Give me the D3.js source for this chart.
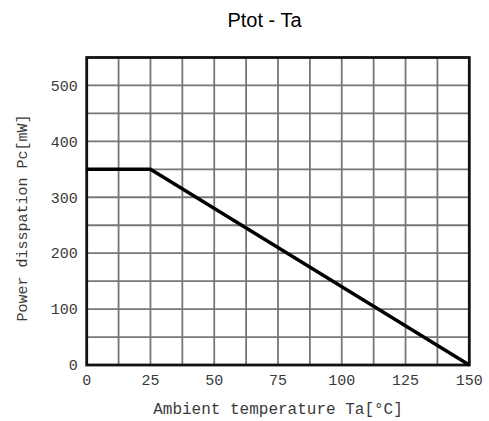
<!DOCTYPE html>
<html>
<head>
<meta charset="utf-8">
<script src="https://cdn.jsdelivr.net/npm/d3@7"></script>
<style>
  body { margin: 0; background: #fff; }
  #chart { width: 489px; height: 421px; }
  .tick-label { font-family: "Liberation Mono", monospace; font-size: 15px; fill: #3a3a3a; }
  .axis-title { font-family: "Liberation Mono", monospace; fill: #3a3a3a; }
  .chart-title { font-family: "Liberation Sans", Arial, sans-serif; font-size: 20px; fill: #000; }
</style>
</head>
<body>
<div id="chart"></div>
<script>
// derating curve Ptot vs ambient temperature
const temps = [0, 25, 150];
const power = [350, 350, 0];

const xTicks = [0, 25, 50, 75, 100, 125, 150];
const yTicks = [0, 100, 200, 300, 400, 500];
const xGrid = [12.5, 25, 37.5, 50, 62.5, 75, 87.5, 100, 112.5, 125, 137.5];
const yGrid = [50, 100, 150, 200, 250, 300, 350, 400, 450, 500];

const margin = { top: 57.5, right: 19.7, bottom: 56, left: 86.7 };
const W = 489, H = 421;
const width = W - margin.left - margin.right;
const height = H - margin.top - margin.bottom;

const svg = d3.select("#chart").append("svg")
    .attr("width", W)
    .attr("height", H);

svg.append("text")
    .attr("class", "chart-title")
    .attr("x", 264.5)
    .attr("y", 27)
    .attr("text-anchor", "middle")
    .text("Ptot - Ta");

const g = svg.append("g").attr("transform", `translate(${margin.left},${margin.top})`);

const x = d3.scaleLinear().domain([0, 150]).range([0, width]);
const y = d3.scaleLinear().domain([0, 550]).range([height, 0]);

// grid
g.selectAll(".gx").data(xGrid).enter().append("line")
    .attr("x1", d => x(d)).attr("x2", d => x(d))
    .attr("y1", 0).attr("y2", height)
    .attr("stroke", "#777").attr("stroke-width", 1.8);
g.selectAll(".gy").data(yGrid).enter().append("line")
    .attr("x1", 0).attr("x2", width)
    .attr("y1", d => y(d)).attr("y2", d => y(d))
    .attr("stroke", "#777").attr("stroke-width", 1.8);

// frame
g.append("rect")
    .attr("width", width).attr("height", height)
    .attr("fill", "none").attr("stroke", "#111").attr("stroke-width", 2.8);

// curve
const pts = temps.map((t, i) => [t, power[i]]);
g.append("path")
    .datum(pts)
    .attr("fill", "none")
    .attr("stroke", "#000")
    .attr("stroke-width", 3.4)
    .attr("d", d3.line().x(d => x(d[0])).y(d => y(d[1])));

// tick labels
g.selectAll(".xt").data(xTicks).enter().append("text")
    .attr("class", "tick-label")
    .attr("x", d => x(d))
    .attr("y", height + 20)
    .attr("text-anchor", "middle")
    .text(d => d);

g.selectAll(".yt").data(yTicks).enter().append("text")
    .attr("class", "tick-label")
    .attr("x", -9)
    .attr("y", d => y(d))
    .attr("dy", "0.35em")
    .attr("text-anchor", "end")
    .text(d => d);

// axis titles
svg.append("text")
    .attr("class", "axis-title")
    .attr("x", margin.left + width / 2)
    .attr("y", 414)
    .attr("text-anchor", "middle")
    .style("font-size", "16px")
    .text("Ambient temperature Ta[°C]");

svg.append("text")
    .attr("class", "axis-title")
    .attr("transform", "translate(27,218) rotate(-90)")
    .attr("text-anchor", "middle")
    .style("font-size", "15px")
    .text("Power disspation Pc[mW]");
</script>
</body>
</html>
